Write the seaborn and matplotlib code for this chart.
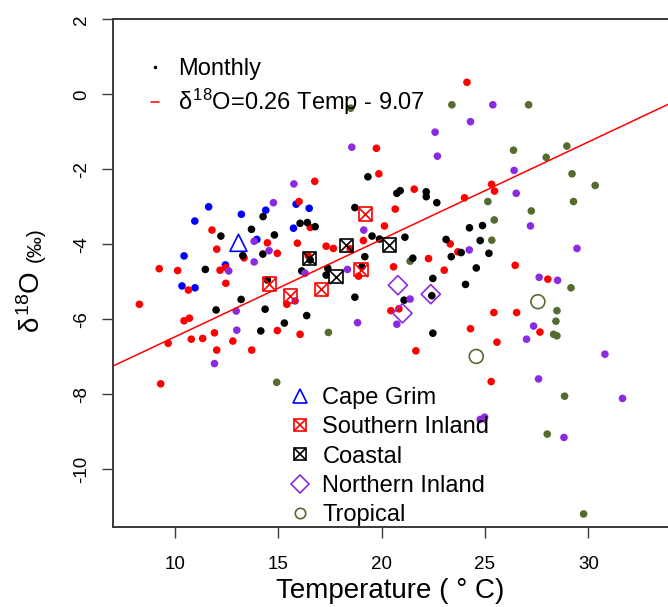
import matplotlib
matplotlib.use("Agg")
import matplotlib.pyplot as plt
import seaborn as sns
import pandas as pd
from matplotlib.lines import Line2D

# ---------------- data ----------------
regions = ["Cape Grim", "Southern Inland", "Coastal", "Northern Inland", "Tropical"]
region_colors = ["#0000FF", "#FF0000", "#000000", "#8A2BE2", "#556B2F"]

# monthly values (temperature degC, d18O permil)
capegrim_temp = [11.64, 10.97, 13.22, 14.40, 15.87, 16.50, 13.97, 10.45, 12.45, 10.35, 10.98, 15.74]
capegrim_d18o = [-3.00, -3.38, -3.20, -3.09, -2.93, -3.04, -3.87, -4.31, -4.55, -5.11, -5.16, -3.57]

southern_temp = [16.01, 11.80, 12.03, 13.35, 14.48, 14.96, 9.25, 10.14, 12.19, 12.47, 12.47, 10.66,
                 8.29, 10.45, 10.71, 9.68, 10.80, 11.35, 11.92, 12.81, 12.03, 13.72, 9.32, 14.96,
                 16.06, 15.42, 16.55, 15.93, 17.32, 17.67, 18.48, 16.77, 19.75, 19.87, 20.66, 20.14,
                 19.12, 20.58, 18.89, 20.45, 20.84, 21.66, 21.58, 24.13, 25.32, 25.46, 24.01, 23.32,
                 23.69, 22.27, 23.03, 26.46, 25.43, 26.53, 24.30, 25.58, 25.30, 28.04, 27.66, 16.45]
southern_d18o = [-2.86, -3.62, -4.13, -4.36, -3.96, -4.24, -4.65, -4.70, -4.69, -4.62, -5.04, -5.22,
                 -5.60, -6.04, -5.97, -6.64, -6.53, -6.51, -6.36, -6.58, -6.82, -6.82, -7.72, -6.30,
                 -6.40, -5.60, -3.55, -3.97, -4.05, -4.11, -4.12, -2.32, -1.44, -2.12, -3.06, -3.51,
                 -3.90, -4.60, -4.85, -5.77, -5.72, -6.84, -2.53, 0.32, -2.40, -2.58, -2.76, -3.99,
                 -4.20, -4.38, -4.69, -4.56, -5.82, -5.82, -6.25, -6.61, -7.66, -4.93, -6.34, -4.30]

coastal_temp = [19.34, 20.74, 20.90, 22.16, 22.16, 22.67, 24.25, 24.88, 24.77, 25.19, 23.85, 23.37,
                23.12, 24.58, 24.06, 21.51, 21.13, 19.54, 19.90, 19.19, 18.71, 18.71, 21.09, 22.43,
                22.48, 22.48, 14.27, 13.71, 12.23, 13.29, 14.26, 11.48, 13.21, 12.00, 14.16, 14.37,
                15.30, 16.38, 16.06, 16.41, 16.79, 14.82, 16.14, 17.40, 17.32, 16.55, 14.48, 19.05]
coastal_d18o = [-2.20, -2.64, -2.57, -2.60, -2.73, -2.89, -3.56, -3.50, -3.90, -4.24, -4.22, -4.33,
                -3.87, -4.63, -5.07, -4.37, -3.81, -3.78, -3.86, -4.33, -3.02, -5.41, -5.49, -5.37,
                -4.91, -6.37, -3.26, -3.60, -3.78, -4.30, -4.26, -4.67, -5.47, -5.75, -6.31, -5.73,
                -6.10, -5.90, -3.44, -3.42, -3.53, -3.75, -4.71, -4.64, -4.82, -4.42, -4.95, -4.60]

northern_temp = [18.56, 15.76, 25.38, 24.30, 22.59, 22.70, 26.41, 26.51, 27.20, 29.45, 24.24, 19.14,
                 18.84, 21.38, 20.74, 27.62, 28.51, 27.35, 27.01, 30.80, 27.59, 31.65, 24.77, 24.98,
                 28.82, 14.77, 13.84, 14.56, 13.84, 12.61, 12.97, 13.00, 11.92, 15.82, 18.35, 16.30]
northern_d18o = [-1.41, -2.39, -0.28, -0.73, -1.01, -1.65, -2.03, -2.64, -3.51, -4.11, -4.15, -3.62,
                 -6.09, -5.46, -6.13, -4.88, -4.96, -6.18, -6.53, -6.93, -7.59, -8.11, -8.67, -8.61,
                 -9.15, -2.89, -3.92, -4.17, -4.47, -4.71, -5.78, -6.29, -7.18, -5.51, -4.67, -4.77]

tropical_temp = [18.51, 23.40, 27.11, 26.38, 28.96, 27.96, 29.21, 30.33, 25.14, 29.28, 27.24, 25.45,
                 25.33, 21.38, 29.16, 28.48, 28.43, 28.32, 28.48, 28.85, 28.01, 29.77, 17.43, 14.93]
tropical_d18o = [-0.37, -0.28, -0.28, -1.49, -1.38, -1.68, -2.12, -2.43, -2.86, -2.86, -3.11, -3.35,
                 -3.89, -4.45, -5.16, -5.77, -6.05, -6.40, -6.44, -8.05, -9.06, -11.19, -6.35, -7.68]

# station means (large symbols)
capegrim_mean_temp = [13.08]
capegrim_mean_d18o = [-3.96]
southern_mean_temp = [14.58, 15.59, 17.09, 19.21, 19.01]
southern_mean_d18o = [-5.06, -5.38, -5.20, -3.19, -4.68]
coastal_mean_temp = [16.51, 17.80, 18.29, 20.38]
coastal_mean_d18o = [-4.37, -4.86, -4.03, -4.02]
northern_mean_temp = [20.79, 21.01, 22.38]
northern_mean_d18o = [-5.09, -5.84, -5.33]
tropical_mean_temp = [27.56, 24.58]
tropical_mean_d18o = [-5.53, -6.99]

# regression
slope = 0.26
intercept = -9.07

x_ticks = [10, 15, 20, 25, 30]
y_ticks = [-10, -8, -6, -4, -2, 0, 2]

# ---------------- style ----------------
sns.set_style("white")
plt.rcParams["font.family"] = ["Liberation Sans", "DejaVu Sans"]
plt.rcParams["mathtext.fontset"] = "custom"
plt.rcParams["mathtext.rm"] = "Liberation Sans"
plt.rcParams["mathtext.it"] = "Liberation Sans"
plt.rcParams["mathtext.bf"] = "Liberation Sans:bold"
plt.rcParams["axes.unicode_minus"] = False
plt.rcParams["text.color"] = "black"
plt.rcParams["axes.labelcolor"] = "black"
plt.rcParams["xtick.color"] = "black"
plt.rcParams["ytick.color"] = "black"

W, H = 668, 607
AX_L, AX_R, AX_T, AX_B = 112.7, 668.0, 19.3, 526.7
fig = plt.figure(figsize=(W / 100, H / 100), dpi=100)
ax = fig.add_axes([AX_L / W, 1 - AX_B / H, (AX_R - AX_L) / W, (AX_B - AX_T) / H])

cmap = dict(zip(regions, region_colors))

monthly = pd.concat([
    pd.DataFrame({"temp": tropical_temp, "d18o": tropical_d18o, "region": "Tropical"}),
    pd.DataFrame({"temp": capegrim_temp, "d18o": capegrim_d18o, "region": "Cape Grim"}),
    pd.DataFrame({"temp": southern_temp, "d18o": southern_d18o, "region": "Southern Inland"}),
    pd.DataFrame({"temp": coastal_temp, "d18o": coastal_d18o, "region": "Coastal"}),
    pd.DataFrame({"temp": northern_temp, "d18o": northern_d18o, "region": "Northern Inland"}),
], ignore_index=True)

sns.scatterplot(data=monthly, x="temp", y="d18o", hue="region", palette=cmap,
                s=30, linewidth=0, legend=False, ax=ax, zorder=2)

ax.axline((0, intercept), slope=slope, color="#FF0000", lw=1.1, zorder=3)

lw_m = 1.2
# Cape Grim mean: open triangle
sns.scatterplot(x=capegrim_mean_temp, y=capegrim_mean_d18o, marker="^", s=150,
                color=cmap["Cape Grim"], facecolor="none", edgecolor=cmap["Cape Grim"],
                linewidth=lw_m, ax=ax, zorder=4, legend=False)
# Southern / Coastal: boxed cross
for mt, md, reg in [(southern_mean_temp, southern_mean_d18o, "Southern Inland"),
                    (coastal_mean_temp, coastal_mean_d18o, "Coastal")]:
    sns.scatterplot(x=mt, y=md, marker="s", s=90, color=cmap[reg], facecolor="none",
                    edgecolor=cmap[reg], linewidth=lw_m, ax=ax, zorder=4, legend=False)
    sns.scatterplot(x=mt, y=md, marker="x", s=90, color=cmap[reg],
                    linewidth=lw_m, ax=ax, zorder=4, legend=False)
# Northern: open diamond
sns.scatterplot(x=northern_mean_temp, y=northern_mean_d18o, marker="D", s=95,
                color=cmap["Northern Inland"], facecolor="none", edgecolor=cmap["Northern Inland"],
                linewidth=lw_m, ax=ax, zorder=4, legend=False)
# Tropical: open circle
sns.scatterplot(x=tropical_mean_temp, y=tropical_mean_d18o, marker="o", s=100,
                color=cmap["Tropical"], facecolor="none", edgecolor=cmap["Tropical"],
                linewidth=lw_m, ax=ax, zorder=4, legend=False)

# ---------------- axes ----------------
ax.set_xlim(7, 33.85)
ax.set_ylim(-11.53, 2.0)
ax.set_xticks(x_ticks)
ax.set_yticks(y_ticks)
ax.set_xticklabels([str(t) for t in x_ticks])
ax.set_yticklabels([str(t) for t in y_ticks])
spine_c = "#3a3a3a"
for s in ["left", "bottom", "top"]:
    ax.spines[s].set_color(spine_c)
    ax.spines[s].set_linewidth(1.4)
ax.spines["right"].set_visible(False)
ax.tick_params(axis="both", direction="out", length=8, width=1.0, color=spine_c,
               labelsize=13.5, labelcolor="black", bottom=True, left=True,
               top=False, right=False)
ax.tick_params(axis="x", pad=13)
ax.tick_params(axis="y", pad=8, labelrotation=90)
for lab in ax.get_yticklabels():
    lab.set_va("center")
ax.set_xlabel("Temperature ( \u00b0 C)", fontsize=20, color="black")
ax.xaxis.set_label_coords(0.5, (AX_B - 578) / (AX_B - AX_T))
ax.set_ylabel("")

# y label: delta18O (permil)
fig.text(40.5 / W, 1 - 333 / H, r"$\delta^{18}$O", rotation=90, rotation_mode="anchor",
         ha="left", va="baseline", fontsize=20, color="black")
fig.text(40.5 / W, 1 - 227 / H, "(\u2030)", rotation=90, rotation_mode="anchor",
         ha="right", va="baseline", fontsize=15, color="black")

# ---------------- legends ----------------
def ax_xy(px, py):
    return ((px - AX_L) / (AX_R - AX_L), (AX_B - py) / (AX_B - AX_T))

h_top = [Line2D([], [], marker=".", color="black", linestyle="none", markersize=3),
         Line2D([], [], color="#FF0000", lw=1.1)]
l_top = ["Monthly", r"$\delta^{18}$O=" + f"{slope:.2f} Temp - {abs(intercept):.2f}"]
leg1 = ax.legend(h_top, l_top, loc="upper left", bbox_to_anchor=ax_xy(151, 58),
                 frameon=False, fontsize=17, handlelength=0.34, handletextpad=0.79,
                 borderpad=0, borderaxespad=0, labelspacing=0.3)
ax.add_artist(leg1)

def mk(marker, c, ms, lw=1.2):
    return Line2D([], [], marker=marker, linestyle="none", markerfacecolor="none",
                  markeredgecolor=c, color=c, markersize=ms, markeredgewidth=lw)

h_bot = [mk("^", cmap["Cape Grim"], 10.5),
         (mk("s", cmap["Southern Inland"], 8), mk("x", cmap["Southern Inland"], 8)),
         (mk("s", cmap["Coastal"], 8), mk("x", cmap["Coastal"], 8)),
         mk("D", cmap["Northern Inland"], 8.7),
         mk("o", cmap["Tropical"], 7.5)]
leg2 = ax.legend(h_bot, regions, loc="upper left", bbox_to_anchor=ax_xy(288, 387),
                 frameon=False, fontsize=17, handlelength=1.0, handletextpad=0.46,
                 borderpad=0, borderaxespad=0, labelspacing=0.31)
for t in list(leg1.get_texts()) + list(leg2.get_texts()):
    t.set_color("black")

fig.savefig("out.png", dpi=100)
